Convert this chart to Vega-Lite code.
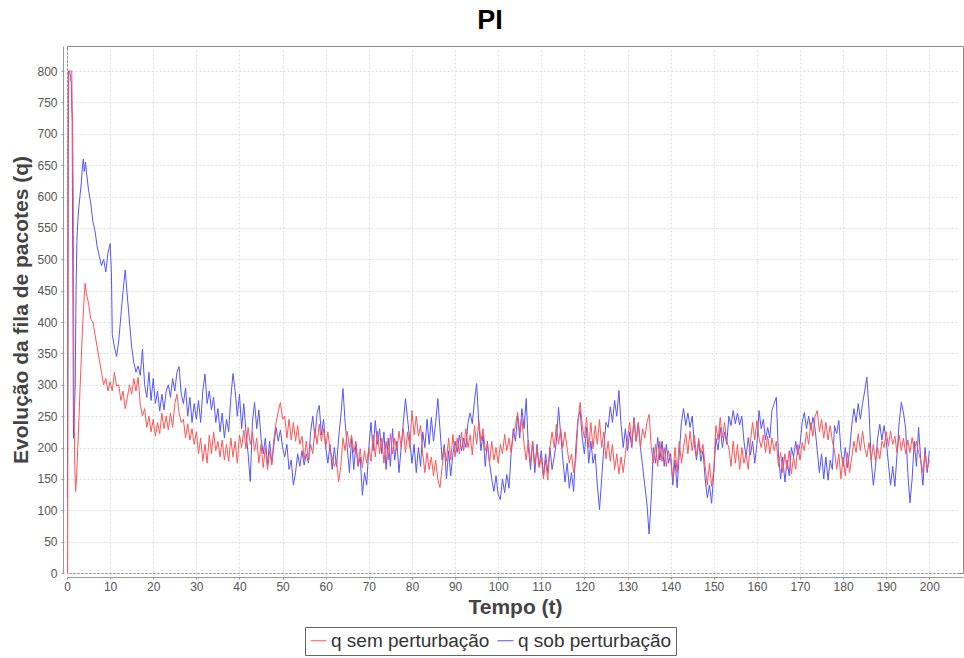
{
  "$schema": "https://vega.github.io/schema/vega-lite/v6.json",
  "width": 896,
  "height": 527,
  "autosize": {"type": "none"},
  "padding": {"left": 67, "top": 46, "right": 1, "bottom": 85},
  "background": "white",
  "title": {
    "text": "PI",
    "font": "Liberation Sans",
    "fontSize": 27,
    "fontWeight": "bold",
    "color": "#000000",
    "anchor": "middle",
    "baseline": "alphabetic",
    "offset": 16,
    "dx": -25,
    "dy": 26
  },
  "config": {
    "view": {"stroke": "#888888", "strokeWidth": 1},
    "axis": {
      "labelFont": "Liberation Sans",
      "labelFontSize": 12,
      "labelColor": "#555555",
      "titleFont": "Liberation Sans",
      "titleFontSize": 21,
      "titleFontWeight": "bold",
      "titleColor": "#444444",
      "domainColor": "#999999",
      "tickColor": "#999999",
      "tickSize": 2,
      "gridColor": "#dcdcdc",
      "gridDash": [2, 2],
      "gridWidth": 1,
      "offset": 4
    }
  },
  "datasets": {
    "sem": [
      {"t":0,"q":0},{"t":0.15,"q":0},{"t":0.3,"q":800},{"t":0.6,"q":800},{"t":0.9,"q":800},{"t":1.1,"q":800},{"t":1.2,"q":740},{"t":1.3,"q":720},{"t":1.45,"q":600},{"t":1.6,"q":300},{"t":1.8,"q":170},{"t":2.0,"q":130},{"t":2.2,"q":150},{"t":2.5,"q":200},{"t":2.8,"q":250},{"t":3.0,"q":290},{"t":3.3,"q":340},{"t":3.6,"q":390},{"t":3.9,"q":430},{"t":4.2,"q":462},{"t":4.5,"q":445},
      {"t":5,"q":430},{"t":5.5,"q":405},{"t":6,"q":400},{"t":6.5,"q":380},{"t":7,"q":360},{"t":7.5,"q":340},{"t":8,"q":320},{"t":8.5,"q":300},{"t":9,"q":310},{"t":9.5,"q":290},
      {"t":10,"q":305},{"t":10.5,"q":290},{"t":11,"q":320},{"t":11.5,"q":298},{"t":12,"q":300},{"t":12.5,"q":275},{"t":13,"q":290},{"t":13.5,"q":262},{"t":14,"q":280},{"t":14.5,"q":300},
      {"t":15,"q":285},{"t":15.5,"q":310},{"t":16,"q":290},{"t":16.5,"q":312},{"t":17,"q":268},{"t":17.5,"q":250},{"t":18,"q":262},{"t":18.5,"q":232},{"t":19,"q":250},{"t":19.5,"q":225},
      {"t":20,"q":245},{"t":20.5,"q":218},{"t":21,"q":240},{"t":21.5,"q":222},{"t":22,"q":255},{"t":22.5,"q":230},{"t":23,"q":250},{"t":23.5,"q":228},{"t":24,"q":255},{"t":24.5,"q":232},
      {"t":25,"q":270},{"t":25.5,"q":285},{"t":26,"q":255},{"t":26.5,"q":240},{"t":27,"q":245},{"t":27.5,"q":215},{"t":28,"q":238},{"t":28.5,"q":212},{"t":29,"q":230},{"t":29.5,"q":205},
      {"t":30,"q":225},{"t":30.5,"q":190},{"t":31,"q":215},{"t":31.5,"q":178},{"t":32,"q":205},{"t":32.5,"q":175},{"t":33,"q":220},{"t":33.5,"q":190},{"t":34,"q":225},{"t":34.5,"q":195},
      {"t":35,"q":210},{"t":35.5,"q":185},{"t":36,"q":212},{"t":36.5,"q":180},{"t":37,"q":205},{"t":37.5,"q":178},{"t":38,"q":215},{"t":38.5,"q":185},{"t":39,"q":210},{"t":39.5,"q":175},
      {"t":40,"q":220},{"t":40.5,"q":200},{"t":41,"q":228},{"t":41.5,"q":198},{"t":42,"q":232},{"t":42.5,"q":205},{"t":43,"q":225},{"t":43.5,"q":195},{"t":44,"q":215},{"t":44.5,"q":175},
      {"t":45,"q":205},{"t":45.5,"q":168},{"t":46,"q":200},{"t":46.5,"q":165},{"t":47,"q":195},{"t":47.5,"q":172},{"t":48,"q":215},{"t":48.5,"q":240},{"t":49,"q":258},{"t":49.5,"q":272},
      {"t":50,"q":245},{"t":50.5,"q":250},{"t":51,"q":215},{"t":51.5,"q":245},{"t":52,"q":212},{"t":52.5,"q":240},{"t":53,"q":210},{"t":53.5,"q":235},{"t":54,"q":205},{"t":54.5,"q":218},
      {"t":55,"q":180},{"t":55.5,"q":210},{"t":56,"q":178},{"t":56.5,"q":205},{"t":57,"q":190},{"t":57.5,"q":230},{"t":58,"q":205},{"t":58.5,"q":237},{"t":59,"q":210},{"t":59.5,"q":230},
      {"t":60,"q":200},{"t":60.5,"q":225},{"t":61,"q":195},{"t":61.5,"q":185},{"t":62,"q":170},{"t":62.5,"q":180},{"t":63,"q":145},{"t":63.5,"q":170},{"t":64,"q":215},{"t":64.5,"q":195},
      {"t":65,"q":226},{"t":65.5,"q":200},{"t":66,"q":220},{"t":66.5,"q":192},{"t":67,"q":210},{"t":67.5,"q":172},{"t":68,"q":198},{"t":68.5,"q":168},{"t":69,"q":195},{"t":69.5,"q":175},
      {"t":70,"q":200},{"t":70.5,"q":178},{"t":71,"q":220},{"t":71.5,"q":185},{"t":72,"q":226},{"t":72.5,"q":190},{"t":73,"q":215},{"t":73.5,"q":175},{"t":74,"q":210},{"t":74.5,"q":180},
      {"t":75,"q":222},{"t":75.5,"q":190},{"t":76,"q":215},{"t":76.5,"q":195},{"t":77,"q":226},{"t":77.5,"q":200},{"t":78,"q":230},{"t":78.5,"q":192},{"t":79,"q":225},{"t":79.5,"q":200},
      {"t":80,"q":259},{"t":80.5,"q":220},{"t":81,"q":250},{"t":81.5,"q":218},{"t":82,"q":235},{"t":82.5,"q":190},{"t":83,"q":160},{"t":83.5,"q":192},{"t":84,"q":165},{"t":84.5,"q":185},
      {"t":85,"q":155},{"t":85.5,"q":180},{"t":86,"q":150},{"t":86.5,"q":136},{"t":87,"q":170},{"t":87.5,"q":200},{"t":88,"q":178},{"t":88.5,"q":215},{"t":89,"q":180},{"t":89.5,"q":221},
      {"t":90,"q":185},{"t":90.5,"q":215},{"t":91,"q":190},{"t":91.5,"q":225},{"t":92,"q":195},{"t":92.5,"q":230},{"t":93,"q":200},{"t":93.5,"q":220},{"t":94,"q":188},{"t":94.5,"q":235},
      {"t":95,"q":205},{"t":95.5,"q":243},{"t":96,"q":210},{"t":96.5,"q":230},{"t":97,"q":195},{"t":97.5,"q":205},{"t":98,"q":175},{"t":98.5,"q":210},{"t":99,"q":180},{"t":99.5,"q":200},
      {"t":100,"q":175},{"t":100.5,"q":205},{"t":101,"q":190},{"t":101.5,"q":221},{"t":102,"q":195},{"t":102.5,"q":215},{"t":103,"q":192},{"t":103.5,"q":220},{"t":104,"q":235},{"t":104.5,"q":256},
      {"t":105,"q":225},{"t":105.5,"q":245},{"t":106,"q":205},{"t":106.5,"q":180},{"t":107,"q":212},{"t":107.5,"q":175},{"t":108,"q":210},{"t":108.5,"q":172},{"t":109,"q":200},{"t":109.5,"q":168},
      {"t":110,"q":185},{"t":110.5,"q":150},{"t":111,"q":180},{"t":111.5,"q":148},{"t":112,"q":200},{"t":112.5,"q":225},{"t":113,"q":200},{"t":113.5,"q":237},{"t":114,"q":205},{"t":114.5,"q":230},
      {"t":115,"q":200},{"t":115.5,"q":225},{"t":116,"q":198},{"t":116.5,"q":175},{"t":117,"q":190},{"t":117.5,"q":160},{"t":118,"q":180},{"t":118.5,"q":240},{"t":119,"q":272},{"t":119.5,"q":235},
      {"t":120,"q":215},{"t":120.5,"q":248},{"t":121,"q":200},{"t":121.5,"q":240},{"t":122,"q":198},{"t":122.5,"q":235},{"t":123,"q":205},{"t":123.5,"q":245},{"t":124,"q":200},{"t":124.5,"q":225},
      {"t":125,"q":182},{"t":125.5,"q":210},{"t":126,"q":178},{"t":126.5,"q":205},{"t":127,"q":165},{"t":127.5,"q":190},{"t":128,"q":158},{"t":128.5,"q":185},{"t":129,"q":160},{"t":129.5,"q":190},
      {"t":130,"q":215},{"t":130.5,"q":240},{"t":131,"q":205},{"t":131.5,"q":245},{"t":132,"q":210},{"t":132.5,"q":238},{"t":133,"q":200},{"t":133.5,"q":230},{"t":134,"q":215},{"t":134.5,"q":240},
      {"t":135,"q":253},{"t":135.5,"q":200},{"t":136,"q":175},{"t":136.5,"q":205},{"t":137,"q":170},{"t":137.5,"q":210},{"t":138,"q":178},{"t":138.5,"q":200},{"t":139,"q":170},{"t":139.5,"q":195},
      {"t":140,"q":180},{"t":140.5,"q":150},{"t":141,"q":200},{"t":141.5,"q":160},{"t":142,"q":210},{"t":142.5,"q":175},{"t":143,"q":200},{"t":143.5,"q":222},{"t":144,"q":190},{"t":144.5,"q":226},
      {"t":145,"q":195},{"t":145.5,"q":220},{"t":146,"q":185},{"t":146.5,"q":215},{"t":147,"q":190},{"t":147.5,"q":205},{"t":148,"q":170},{"t":148.5,"q":140},{"t":149,"q":175},{"t":149.5,"q":138},
      {"t":150,"q":165},{"t":150.5,"q":235},{"t":151,"q":212},{"t":151.5,"q":248},{"t":152,"q":215},{"t":152.5,"q":240},{"t":153,"q":210},{"t":153.5,"q":200},{"t":154,"q":170},{"t":154.5,"q":210},
      {"t":155,"q":175},{"t":155.5,"q":205},{"t":156,"q":165},{"t":156.5,"q":200},{"t":157,"q":175},{"t":157.5,"q":190},{"t":158,"q":165},{"t":158.5,"q":210},{"t":159,"q":240},{"t":159.5,"q":212},
      {"t":160,"q":243},{"t":160.5,"q":215},{"t":161,"q":200},{"t":161.5,"q":220},{"t":162,"q":192},{"t":162.5,"q":218},{"t":163,"q":190},{"t":163.5,"q":215},{"t":164,"q":195},{"t":164.5,"q":210},
      {"t":165,"q":170},{"t":165.5,"q":192},{"t":166,"q":160},{"t":166.5,"q":190},{"t":167,"q":165},{"t":167.5,"q":195},{"t":168,"q":158},{"t":168.5,"q":185},{"t":169,"q":165},{"t":169.5,"q":205},
      {"t":170,"q":180},{"t":170.5,"q":208},{"t":171,"q":195},{"t":171.5,"q":225},{"t":172,"q":205},{"t":172.5,"q":240},{"t":173,"q":218},{"t":173.5,"q":250},{"t":174,"q":259},{"t":174.5,"q":225},
      {"t":175,"q":245},{"t":175.5,"q":215},{"t":176,"q":240},{"t":176.5,"q":212},{"t":177,"q":235},{"t":177.5,"q":210},{"t":178,"q":195},{"t":178.5,"q":165},{"t":179,"q":190},{"t":179.5,"q":150},
      {"t":180,"q":185},{"t":180.5,"q":155},{"t":181,"q":192},{"t":181.5,"q":160},{"t":182,"q":185},{"t":182.5,"q":210},{"t":183,"q":192},{"t":183.5,"q":222},{"t":184,"q":195},{"t":184.5,"q":226},
      {"t":185,"q":200},{"t":185.5,"q":185},{"t":186,"q":208},{"t":186.5,"q":180},{"t":187,"q":205},{"t":187.5,"q":178},{"t":188,"q":200},{"t":188.5,"q":182},{"t":189,"q":210},{"t":189.5,"q":200},
      {"t":190,"q":225},{"t":190.5,"q":202},{"t":191,"q":226},{"t":191.5,"q":205},{"t":192,"q":218},{"t":192.5,"q":192},{"t":193,"q":220},{"t":193.5,"q":195},{"t":194,"q":215},{"t":194.5,"q":190},
      {"t":195,"q":212},{"t":195.5,"q":192},{"t":196,"q":216},{"t":196.5,"q":195},{"t":197,"q":210},{"t":197.5,"q":192},{"t":198,"q":180},{"t":198.5,"q":160},{"t":199,"q":190},{"t":199.5,"q":165},
      {"t":200,"q":180}
    ],
    "sob": [
      {"t":0,"q":120},{"t":0.1,"q":120},{"t":0.2,"q":376},{"t":0.3,"q":660},{"t":0.4,"q":800},{"t":0.6,"q":800},{"t":0.8,"q":790},{"t":1.0,"q":780},{"t":1.1,"q":745},{"t":1.2,"q":720},{"t":1.3,"q":540},{"t":1.4,"q":400},{"t":1.5,"q":215},{"t":1.7,"q":250},{"t":1.9,"q":300},{"t":2.1,"q":450},{"t":2.3,"q":530},{"t":2.5,"q":560},{"t":2.7,"q":580},{"t":3.0,"q":600},{"t":3.3,"q":620},{"t":3.6,"q":650},{"t":3.8,"q":660},{"t":4.0,"q":640},{"t":4.3,"q":655},{"t":4.5,"q":640},
      {"t":5,"q":610},{"t":5.5,"q":590},{"t":6,"q":560},{"t":6.5,"q":545},{"t":7,"q":520},{"t":7.5,"q":505},{"t":8,"q":490},{"t":8.5,"q":500},{"t":9,"q":480},{"t":9.5,"q":510},
      {"t":10,"q":525},{"t":10.3,"q":480},{"t":10.5,"q":380},{"t":11,"q":360},{"t":11.5,"q":345},{"t":12,"q":370},{"t":12.5,"q":410},{"t":13,"q":450},{"t":13.5,"q":483},{"t":14,"q":440},{"t":14.5,"q":400},
      {"t":15,"q":360},{"t":15.5,"q":335},{"t":16,"q":320},{"t":16.5,"q":330},{"t":17,"q":315},{"t":17.5,"q":357},{"t":18,"q":300},{"t":18.5,"q":280},{"t":19,"q":320},{"t":19.5,"q":275},
      {"t":20,"q":310},{"t":20.5,"q":270},{"t":21,"q":290},{"t":21.5,"q":258},{"t":22,"q":285},{"t":22.5,"q":260},{"t":23,"q":290},{"t":23.5,"q":300},{"t":24,"q":280},{"t":24.5,"q":310},
      {"t":25,"q":290},{"t":25.5,"q":320},{"t":26,"q":329},{"t":26.5,"q":285},{"t":27,"q":270},{"t":27.5,"q":295},{"t":28,"q":250},{"t":28.5,"q":280},{"t":29,"q":240},{"t":29.5,"q":270},
      {"t":30,"q":245},{"t":30.5,"q":275},{"t":31,"q":240},{"t":31.5,"q":290},{"t":32,"q":317},{"t":32.5,"q":270},{"t":33,"q":290},{"t":33.5,"q":260},{"t":34,"q":280},{"t":34.5,"q":240},
      {"t":35,"q":262},{"t":35.5,"q":225},{"t":36,"q":255},{"t":36.5,"q":215},{"t":37,"q":245},{"t":37.5,"q":225},{"t":38,"q":280},{"t":38.5,"q":318},{"t":39,"q":290},{"t":39.5,"q":250},
      {"t":40,"q":285},{"t":40.5,"q":230},{"t":41,"q":270},{"t":41.5,"q":225},{"t":42,"q":190},{"t":42.5,"q":146},{"t":43,"q":240},{"t":43.5,"q":272},{"t":44,"q":230},{"t":44.5,"q":260},
      {"t":45,"q":215},{"t":45.5,"q":190},{"t":46,"q":215},{"t":46.5,"q":172},{"t":47,"q":210},{"t":47.5,"q":175},{"t":48,"q":205},{"t":48.5,"q":232},{"t":49,"q":210},{"t":49.5,"q":228},
      {"t":50,"q":200},{"t":50.5,"q":185},{"t":51,"q":205},{"t":51.5,"q":165},{"t":52,"q":180},{"t":52.5,"q":140},{"t":53,"q":160},{"t":53.5,"q":190},{"t":54,"q":170},{"t":54.5,"q":195},
      {"t":55,"q":172},{"t":55.5,"q":190},{"t":56,"q":175},{"t":56.5,"q":225},{"t":57,"q":250},{"t":57.5,"q":215},{"t":58,"q":255},{"t":58.5,"q":267},{"t":59,"q":220},{"t":59.5,"q":245},
      {"t":60,"q":200},{"t":60.5,"q":175},{"t":61,"q":205},{"t":61.5,"q":165},{"t":62,"q":200},{"t":62.5,"q":170},{"t":63,"q":215},{"t":63.5,"q":250},{"t":64,"q":294},{"t":64.5,"q":240},
      {"t":65,"q":200},{"t":65.5,"q":160},{"t":66,"q":215},{"t":66.5,"q":165},{"t":67,"q":205},{"t":67.5,"q":170},{"t":68,"q":185},{"t":68.5,"q":124},{"t":69,"q":160},{"t":69.5,"q":140},
      {"t":70,"q":200},{"t":70.5,"q":240},{"t":71,"q":195},{"t":71.5,"q":243},{"t":72,"q":205},{"t":72.5,"q":230},{"t":73,"q":190},{"t":73.5,"q":225},{"t":74,"q":165},{"t":74.5,"q":215},
      {"t":75,"q":170},{"t":75.5,"q":230},{"t":76,"q":180},{"t":76.5,"q":210},{"t":77,"q":160},{"t":77.5,"q":200},{"t":78,"q":240},{"t":78.5,"q":278},{"t":79,"q":245},{"t":79.5,"q":210},
      {"t":80,"q":175},{"t":80.5,"q":205},{"t":81,"q":160},{"t":81.5,"q":200},{"t":82,"q":170},{"t":82.5,"q":225},{"t":83,"q":200},{"t":83.5,"q":245},{"t":84,"q":205},{"t":84.5,"q":248},
      {"t":85,"q":210},{"t":85.5,"q":240},{"t":86,"q":278},{"t":86.5,"q":230},{"t":87,"q":180},{"t":87.5,"q":205},{"t":88,"q":150},{"t":88.5,"q":195},{"t":89,"q":155},{"t":89.5,"q":190},
      {"t":90,"q":210},{"t":90.5,"q":192},{"t":91,"q":220},{"t":91.5,"q":195},{"t":92,"q":215},{"t":92.5,"q":200},{"t":93,"q":240},{"t":93.5,"q":255},{"t":94,"q":238},{"t":94.5,"q":275},
      {"t":95,"q":302},{"t":95.5,"q":240},{"t":96,"q":195},{"t":96.5,"q":221},{"t":97,"q":170},{"t":97.5,"q":210},{"t":98,"q":175},{"t":98.5,"q":150},{"t":99,"q":130},{"t":99.5,"q":155},
      {"t":100,"q":125},{"t":100.5,"q":117},{"t":101,"q":150},{"t":101.5,"q":128},{"t":102,"q":157},{"t":102.5,"q":135},{"t":103,"q":190},{"t":103.5,"q":230},{"t":104,"q":210},{"t":104.5,"q":250},
      {"t":105,"q":215},{"t":105.5,"q":262},{"t":106,"q":230},{"t":106.5,"q":278},{"t":107,"q":200},{"t":107.5,"q":165},{"t":108,"q":210},{"t":108.5,"q":160},{"t":109,"q":205},{"t":109.5,"q":170},
      {"t":110,"q":195},{"t":110.5,"q":155},{"t":111,"q":190},{"t":111.5,"q":160},{"t":112,"q":200},{"t":112.5,"q":165},{"t":113,"q":185},{"t":113.5,"q":210},{"t":114,"q":264},{"t":114.5,"q":220},
      {"t":115,"q":180},{"t":115.5,"q":145},{"t":116,"q":175},{"t":116.5,"q":135},{"t":117,"q":160},{"t":117.5,"q":130},{"t":118,"q":200},{"t":118.5,"q":245},{"t":119,"q":259},{"t":119.5,"q":215},
      {"t":120,"q":190},{"t":120.5,"q":232},{"t":121,"q":175},{"t":121.5,"q":210},{"t":122,"q":175},{"t":122.5,"q":190},{"t":123,"q":140},{"t":123.5,"q":101},{"t":124,"q":150},{"t":124.5,"q":200},
      {"t":125,"q":240},{"t":125.5,"q":232},{"t":126,"q":265},{"t":126.5,"q":240},{"t":127,"q":275},{"t":127.5,"q":250},{"t":128,"q":291},{"t":128.5,"q":237},{"t":129,"q":200},{"t":129.5,"q":230},
      {"t":130,"q":195},{"t":130.5,"q":225},{"t":131,"q":200},{"t":131.5,"q":248},{"t":132,"q":210},{"t":132.5,"q":240},{"t":133,"q":200},{"t":133.5,"q":170},{"t":134,"q":140},{"t":134.5,"q":110},
      {"t":135,"q":62},{"t":135.5,"q":120},{"t":136,"q":200},{"t":136.5,"q":175},{"t":137,"q":216},{"t":137.5,"q":180},{"t":138,"q":210},{"t":138.5,"q":170},{"t":139,"q":205},{"t":139.5,"q":175},
      {"t":140,"q":190},{"t":140.5,"q":140},{"t":141,"q":180},{"t":141.5,"q":136},{"t":142,"q":190},{"t":142.5,"q":240},{"t":143,"q":262},{"t":143.5,"q":235},{"t":144,"q":255},{"t":144.5,"q":232},
      {"t":145,"q":250},{"t":145.5,"q":205},{"t":146,"q":180},{"t":146.5,"q":210},{"t":147,"q":178},{"t":147.5,"q":195},{"t":148,"q":150},{"t":148.5,"q":120},{"t":149,"q":140},{"t":149.5,"q":111},
      {"t":150,"q":160},{"t":150.5,"q":215},{"t":151,"q":196},{"t":151.5,"q":232},{"t":152,"q":200},{"t":152.5,"q":225},{"t":153,"q":205},{"t":153.5,"q":250},{"t":154,"q":235},{"t":154.5,"q":259},
      {"t":155,"q":238},{"t":155.5,"q":255},{"t":156,"q":236},{"t":156.5,"q":250},{"t":157,"q":210},{"t":157.5,"q":185},{"t":158,"q":216},{"t":158.5,"q":188},{"t":159,"q":210},{"t":159.5,"q":175},
      {"t":160,"q":205},{"t":160.5,"q":259},{"t":161,"q":230},{"t":161.5,"q":245},{"t":162,"q":212},{"t":162.5,"q":232},{"t":163,"q":215},{"t":163.5,"q":260},{"t":164,"q":270},{"t":164.5,"q":280},
      {"t":165,"q":190},{"t":165.5,"q":150},{"t":166,"q":185},{"t":166.5,"q":145},{"t":167,"q":180},{"t":167.5,"q":155},{"t":168,"q":200},{"t":168.5,"q":185},{"t":169,"q":210},{"t":169.5,"q":188},
      {"t":170,"q":205},{"t":170.5,"q":240},{"t":171,"q":256},{"t":171.5,"q":230},{"t":172,"q":250},{"t":172.5,"q":228},{"t":173,"q":248},{"t":173.5,"q":230},{"t":174,"q":195},{"t":174.5,"q":160},
      {"t":175,"q":190},{"t":175.5,"q":150},{"t":176,"q":185},{"t":176.5,"q":148},{"t":177,"q":180},{"t":177.5,"q":165},{"t":178,"q":235},{"t":178.5,"q":222},{"t":179,"q":243},{"t":179.5,"q":195},
      {"t":180,"q":170},{"t":180.5,"q":200},{"t":181,"q":168},{"t":181.5,"q":195},{"t":182,"q":235},{"t":182.5,"q":262},{"t":183,"q":240},{"t":183.5,"q":270},{"t":184,"q":245},{"t":184.5,"q":270},
      {"t":185,"q":290},{"t":185.5,"q":312},{"t":186,"q":260},{"t":186.5,"q":180},{"t":187,"q":140},{"t":187.5,"q":170},{"t":188,"q":215},{"t":188.5,"q":237},{"t":189,"q":212},{"t":189.5,"q":235},
      {"t":190,"q":210},{"t":190.5,"q":175},{"t":191,"q":140},{"t":191.5,"q":170},{"t":192,"q":138},{"t":192.5,"q":190},{"t":193,"q":240},{"t":193.5,"q":272},{"t":194,"q":255},{"t":194.5,"q":230},
      {"t":195,"q":160},{"t":195.5,"q":112},{"t":196,"q":150},{"t":196.5,"q":210},{"t":197,"q":170},{"t":197.5,"q":232},{"t":198,"q":180},{"t":198.5,"q":140},{"t":199,"q":200},{"t":199.5,"q":160},
      {"t":200,"q":195}
    ]
  },
  "encoding": {
    "x": {
      "field": "t",
      "type": "quantitative",
      "scale": {"domain": [0, 207.8], "nice": false, "zero": false},
      "axis": {
        "title": "Tempo (t)",
        "values": [0,10,20,30,40,50,60,70,80,90,100,110,120,130,140,150,160,170,180,190,200],
        "labelPadding": 2,
        "titlePadding": 4,
        "labelFlush": false,
        "labelOverlap": false
      }
    },
    "y": {
      "field": "q",
      "type": "quantitative",
      "scale": {"domain": [0, 840], "nice": false},
      "axis": {
        "title": "Evolução da fila de pacotes (q)",
        "values": [0,50,100,150,200,250,300,350,400,450,500,550,600,650,700,750,800],
        "labelPadding": 4,
        "titlePadding": 5,
        "labelOverlap": false
      }
    },
    "color": {
      "scale": {
        "domain": ["q sem perturbação", "q sob perturbação"],
        "range": ["#ff5555", "#5555ff"]
      },
      "legend": {
        "title": null,
        "orient": "none",
        "legendX": 238,
        "legendY": 581,
        "direction": "horizontal",
        "labelFont": "Liberation Sans",
        "labelFontSize": 19,
        "labelColor": "#333333",
        "labelOffset": 3,
        "symbolType": "stroke",
        "symbolSize": 256,
        "symbolStrokeWidth": 1,
        "columnPadding": 5,
        "padding": 4,
        "strokeColor": "#666666"
      }
    }
  },
  "layer": [
    {
      "data": {"name": "sob"},
      "mark": {"type": "line", "strokeWidth": 1},
      "encoding": {"color": {"datum": "q sob perturbação"}}
    },
    {
      "data": {"name": "sem"},
      "mark": {"type": "line", "strokeWidth": 1},
      "encoding": {"color": {"datum": "q sem perturbação"}}
    }
  ]
}
